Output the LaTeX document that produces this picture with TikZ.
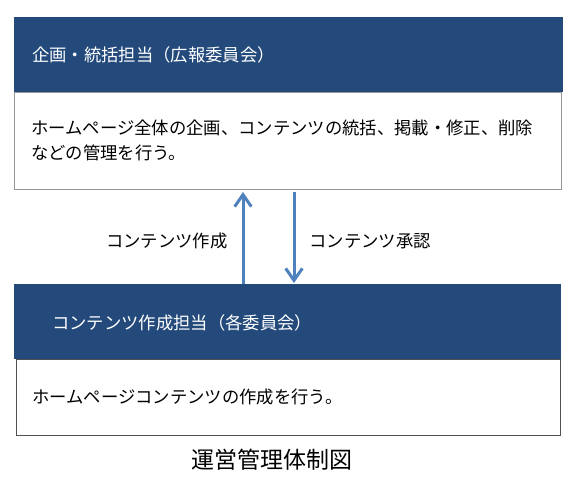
\documentclass[tikz,border=0pt]{standalone}
\usepackage{fontspec}
\usepackage{tikz}
\usetikzlibrary{arrows.meta,positioning}
\newfontfamily\jpfont{Noto Sans CJK JP}
\definecolor{headblue}{RGB}{36,74,124}
\definecolor{flowblue}{RGB}{79,129,189}
\definecolor{planline}{RGB}{150,150,150}
\definecolor{makeline}{RGB}{80,80,80}

\begin{document}
\begin{tikzpicture}[x=0.75pt, y=-0.75pt, >={Straight Barb[length=9pt,width=12.5pt]},
    headbox/.style={fill=headblue, minimum height=56.25pt, outer sep=0pt, inner sep=0pt},
    bodybox/.style={draw, fill=white, outer sep=0pt, inner sep=0pt},
    headtext/.style={text=white, inner sep=0pt, font=\jpfont\fontsize{13}{18.75}\selectfont},
    bodytext/.style={inner sep=0pt, align=left, font=\jpfont\fontsize{13}{18.75}\selectfont},
    flow/.style={draw=flowblue, line width=2.25pt},
    captext/.style={inner sep=0pt, font=\jpfont\fontsize{17.25}{20}\selectfont}]
    \useasboundingbox (0,0) rectangle (576,484);

    % box 1
    \node(plan)      [headbox, minimum width=411.75pt, anchor=north west] at (14,17) {};
    \node(planbody)  [bodybox, draw=planline, minimum width=410.25pt, minimum height=72.75pt,
                      below=0pt of plan.south west, anchor=north west] {};
    \node(plantitle) [headtext, anchor=west] at ([xshift=13.5pt]plan.west) {企画・統括担当（広報委員会）};
    \node(plantext)  [bodytext, anchor=west] at ([xshift=12.75pt]planbody.west)
                     {ホームページ全体の企画、コンテンツの統括、掲載・修正、削除\\などの管理を行う。};

    % box 2
    \node(make)      [headbox, minimum width=410.25pt, anchor=north west] at (14,284) {};
    \node(makebody)  [bodybox, draw=makeline, minimum width=408pt, minimum height=57pt,
                      below=0pt of make.south west, anchor=north west, xshift=1.5pt] {};
    \node(maketitle) [headtext, anchor=west] at ([xshift=28.5pt, yshift=-1pt]make.west) {コンテンツ作成担当（各委員会）};
    \node(maketext)  [bodytext, anchor=west] at ([xshift=12pt]makebody.west) {ホームページコンテンツの作成を行う。};

    % caption
    \node(caption)   [captext] at (272,460) {運営管理体制図};

    % arrows
    \coordinate(uptip)   at (243,192);
    \coordinate(downtip) at (294,283);
    \draw [->][flow] (make.north -| uptip) to node [left=10.5pt, yshift=-2.5pt, bodytext] {コンテンツ作成} (uptip);
    \draw [->][flow] (planbody.south -| downtip) ++(0,3) to node [right=10.5pt, yshift=-2.5pt, bodytext] {コンテンツ承認} (downtip);
\end{tikzpicture}
\end{document}
